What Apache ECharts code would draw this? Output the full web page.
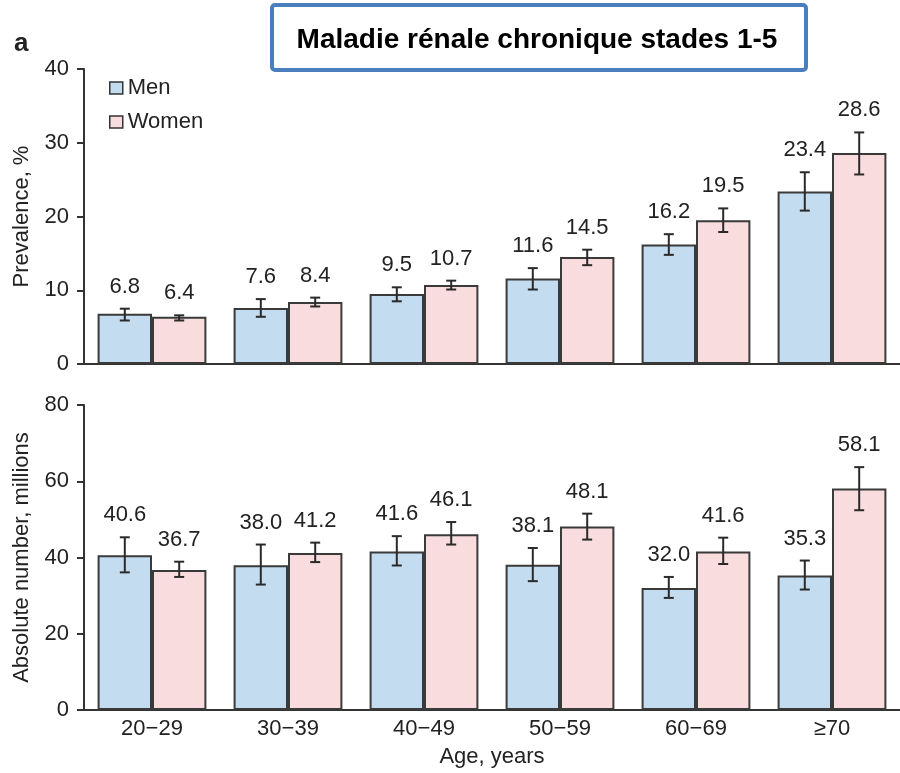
<!DOCTYPE html>
<html>
<head>
<meta charset="utf-8">
<title>Maladie rénale chronique stades 1-5</title>
<script src="https://cdn.jsdelivr.net/npm/echarts@6/dist/echarts.min.js"></script>
<style>
  html, body { margin: 0; padding: 0; background: #fff; }
  #chart { width: 900px; height: 773px; }
</style>
</head>
<body>
<div id="chart"></div>
<script>
// Age groups
const ageGroups = ['20\u221229', '30\u221239', '40\u221249', '50\u221259', '60\u221269', '\u226570'];

// Prevalence, % (with 95% CI)
const prevMen = [6.8, 7.6, 9.5, 11.6, 16.2, 23.4];
const prevMenLow = [5.9, 6.4, 8.5, 10.1, 14.8, 20.8];
const prevMenHigh = [7.5, 8.8, 10.4, 13.0, 17.6, 26.0];
const prevWomen = [6.4, 8.4, 10.7, 14.5, 19.5, 28.6];
const prevWomenLow = [5.9, 7.8, 10.1, 13.4, 17.9, 25.7];
const prevWomenHigh = [6.6, 9.0, 11.3, 15.5, 21.1, 31.4];

// Absolute number, millions (with 95% CI)
const absMen = [40.6, 38.0, 41.6, 38.1, 32.0, 35.3];
const absMenLow = [36.1, 32.9, 37.9, 33.8, 29.4, 31.6];
const absMenHigh = [45.3, 43.4, 45.6, 42.5, 34.9, 39.2];
const absWomen = [36.7, 41.2, 46.1, 48.1, 41.6, 58.1];
const absWomenLow = [34.9, 38.8, 43.4, 44.7, 38.3, 52.4];
const absWomenHigh = [38.9, 43.9, 49.3, 51.5, 45.2, 63.7];

// Axis ticks
const prevTicks = { min: 0, max: 40, interval: 10 };
const absTicks = { min: 0, max: 80, interval: 20 };

const FONT = 'Liberation Sans';
const FONT_SIZE = 22;
const INK = '#222222';
const MEN_FILL = '#c3dcf0';
const WOMEN_FILL = '#f9dcde';
const CATEGORY_GAP = 0.2;

function ciRows(vals, lows, highs) {
  return vals.map((v, i) => [i, v, lows[i], highs[i]]);
}

// Error bar + value label, shifted to sit over the man (-1) or woman (+1) bar
function errorRenderer(side) {
  return function (params, api) {
    const idx = api.value(0);
    const v = api.value(1);
    const lo = api.value(2);
    const hi = api.value(3);
    const band = api.size([1, 0])[0];
    const barW = band * (1 - CATEGORY_GAP) / 2;
    const cx = api.coord([idx, 0])[0] + side * barW / 2;
    const yHi = api.coord([idx, hi])[1];
    const yLo = api.coord([idx, lo])[1];
    const cap = 5;
    const ls = { stroke: '#2a2a2a', lineWidth: 2 };
    return {
      type: 'group',
      children: [
        { type: 'line', shape: { x1: cx, y1: yHi, x2: cx, y2: yLo }, style: ls },
        { type: 'line', shape: { x1: cx - cap, y1: yHi, x2: cx + cap, y2: yHi }, style: ls },
        { type: 'line', shape: { x1: cx - cap, y1: yLo, x2: cx + cap, y2: yLo }, style: ls },
        {
          type: 'text',
          x: cx,
          y: yHi - 11,
          style: {
            text: v.toFixed(1),
            fill: INK,
            font: FONT_SIZE + 'px "' + FONT + '"',
            textAlign: 'center',
            textVerticalAlign: 'bottom'
          }
        }
      ]
    };
  };
}

function barSeries(name, data, fill, axis) {
  return {
    name: name,
    type: 'bar',
    xAxisIndex: axis,
    yAxisIndex: axis,
    data: data,
    barGap: '0%',
    barCategoryGap: (CATEGORY_GAP * 100) + '%',
    itemStyle: { color: fill, borderColor: '#3a3a3a', borderWidth: 2 },
    emphasis: { disabled: true },
    animation: false
  };
}

function ciSeries(name, rows, side, axis) {
  return {
    name: name,
    type: 'custom',
    xAxisIndex: axis,
    yAxisIndex: axis,
    data: rows,
    encode: { x: 0, y: 1 },
    renderItem: errorRenderer(side),
    clip: false,
    z: 5,
    animation: false
  };
}

const yAxisBase = {
  type: 'value',
  nameLocation: 'middle',
  nameGap: 51,
  nameTextStyle: { fontFamily: FONT, fontSize: FONT_SIZE, color: INK },
  axisLine: { show: true, lineStyle: { color: '#333', width: 2 } },
  axisTick: { show: true, length: 7, lineStyle: { color: '#333', width: 2 } },
  axisLabel: { fontFamily: FONT, fontSize: FONT_SIZE, color: INK, margin: 15 },
  splitLine: { show: false }
};

const xAxisBase = {
  type: 'category',
  data: ageGroups,
  axisLine: { lineStyle: { color: '#333', width: 2 } },
  axisTick: { show: false },
  splitLine: { show: false }
};

const chart = echarts.init(document.getElementById('chart'), null, { renderer: 'canvas' });

chart.setOption({
  backgroundColor: '#ffffff',
  animation: false,
  legend: {
    data: ['Men', 'Women'],
    orient: 'vertical',
    left: 104,
    top: 72,
    itemWidth: 13,
    itemHeight: 12,
    itemGap: 12,
    icon: 'rect',
    selectedMode: false,
    itemStyle: { borderColor: '#333', borderWidth: 1.5 },
    textStyle: { fontFamily: FONT, fontSize: FONT_SIZE, color: INK, lineHeight: 22 }
  },
  grid: [
    { left: 84, width: 819, top: 69, height: 295 },
    { left: 84, width: 819, top: 405, height: 305 }
  ],
  xAxis: [
    Object.assign({}, xAxisBase, { gridIndex: 0, axisLabel: { show: false } }),
    Object.assign({}, xAxisBase, {
      gridIndex: 1,
      name: 'Age, years',
      nameLocation: 'middle',
      nameGap: 36,
      nameTextStyle: { fontFamily: FONT, fontSize: FONT_SIZE, color: INK },
      axisLabel: { fontFamily: FONT, fontSize: FONT_SIZE, color: INK, margin: 8 }
    })
  ],
  yAxis: [
    Object.assign({}, yAxisBase, { gridIndex: 0, name: 'Prevalence, %' }, prevTicks),
    Object.assign({}, yAxisBase, { gridIndex: 1, name: 'Absolute number, millions' }, absTicks)
  ],
  series: [
    barSeries('Men', prevMen, MEN_FILL, 0),
    barSeries('Women', prevWomen, WOMEN_FILL, 0),
    barSeries('Men', absMen, MEN_FILL, 1),
    barSeries('Women', absWomen, WOMEN_FILL, 1),
    ciSeries('Men CI', ciRows(prevMen, prevMenLow, prevMenHigh), -1, 0),
    ciSeries('Women CI', ciRows(prevWomen, prevWomenLow, prevWomenHigh), 1, 0),
    ciSeries('Men CI', ciRows(absMen, absMenLow, absMenHigh), -1, 1),
    ciSeries('Women CI', ciRows(absWomen, absWomenLow, absWomenHigh), 1, 1)
  ],
  graphic: [
    {
      type: 'text',
      left: 14,
      top: 31,
      style: { text: 'a', font: 'bold 26px "Liberation Sans"', fill: '#222' }
    },
    {
      type: 'rect',
      shape: { x: 272, y: 5, width: 534, height: 65, r: 3 },
      style: { fill: '#ffffff', stroke: '#4a7ebf', lineWidth: 4 },
      z: 10
    },
    {
      type: 'text',
      x: 537,
      y: 40,
      style: {
        text: 'Maladie r\u00e9nale chronique stades 1-5',
        font: 'bold 28px "Liberation Sans"',
        fill: '#000',
        textAlign: 'center',
        textVerticalAlign: 'middle'
      },
      z: 11
    }
  ]
});
</script>
</body>
</html>
